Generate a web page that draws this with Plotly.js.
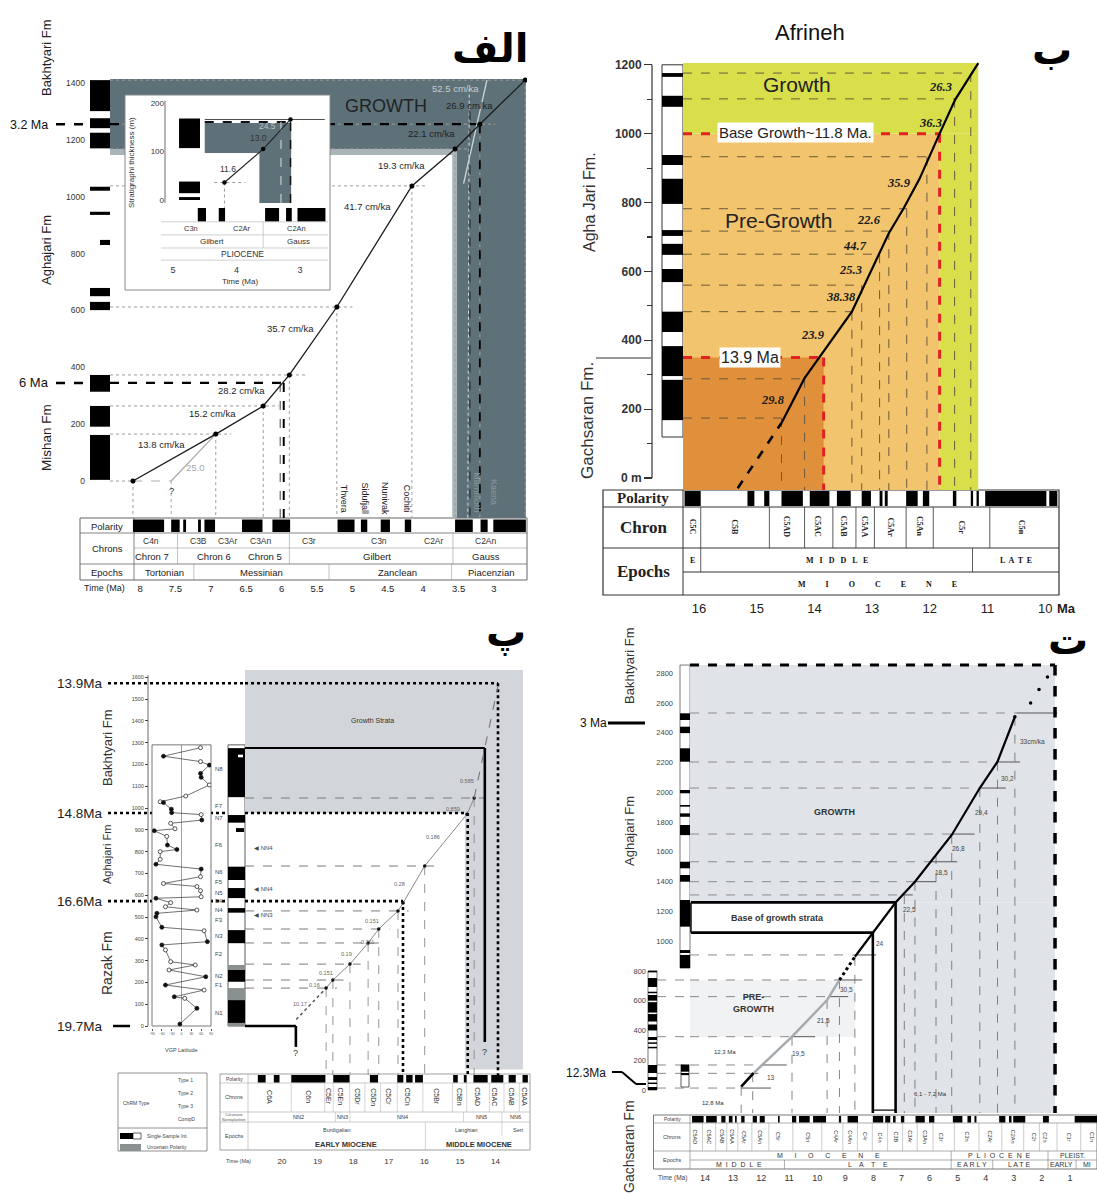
<!DOCTYPE html>
<html>
<head>
<meta charset="utf-8">
<script src="https://cdn.plot.ly/plotly-3.0.1.min.js"></script>
<style>html,body{margin:0;padding:0;background:#fff}#chart{width:1097px;height:1194px}</style>
</head>
<body>
<div id="chart"></div>
<script>
// ================= DATA =================
// ---- Panel A (الف) : age (Ma) vs stratigraphic thickness (m)
const A_age   = [8.1, 6.93, 6.26, 5.89, 5.22, 4.16, 3.55, 3.2, 2.56];
const A_thick = [0, 165, 264, 373, 612, 1038, 1168, 1255, 1410];
const A_altAge = [7.56, 6.93];
const A_altThick = [0, 165];
const A_fastAge = [3.43, 3.10];
const A_fastThick = [1046, 1410];
const A_rateText = ['13.8 cm/ka','15.2 cm/ka','28.2 cm/ka','35.7 cm/ka','41.7 cm/ka','19.3 cm/ka','22.1 cm/ka','26.9 cm/ka'];
const A_rateAge = [7.70, 6.98, 6.56, 5.87, 4.78, 4.30, 3.88, 3.34];
const A_rateThick = [130, 236, 317, 538, 964, 1111, 1224, 1322];
const A_yTicks = [0, 200, 400, 600, 800, 1000, 1200, 1400];
const A_timeTicks = [8, 7.5, 7, 6.5, 6, 5.5, 5, 4.5, 4, 3.5, 3];
const A_colTop = [1410, 1276, 1225, 1035, 947, 679, 630, 373, 264, 162];
const A_colBot = [1301, 1241, 1170, 1021, 936, 650, 601, 314, 191, 4];
const A_polStart = [8.1, 7.56, 7.39, 7.18, 7.09, 6.56, 6.13, 5.21, 4.88, 4.60, 4.26, 3.55, 3.19, 3.01];
const A_polEnd   = [7.66, 7.44, 7.35, 7.14, 6.94, 6.27, 5.88, 4.97, 4.79, 4.47, 4.17, 3.30, 3.09, 2.55];
const A_chron1 = ['C4n','C3B','C3Ar','C3An','C3r','C3n','C2Ar','C2An'];
const A_chron1Age = [7.84, 7.18, 6.76, 6.29, 5.61, 4.62, 3.85, 3.11];
const A_chron2 = ['Chron 7','Chron 6','Chron 5','Gilbert','Gauss'];
const A_chron2Age = [7.83, 6.95, 6.23, 4.65, 3.11];
const A_epoch = ['Tortonian','Messinian','Zanclean','Piacenzian'];
const A_epochAge = [7.66, 6.29, 4.36, 3.04];
const A_epochBounds = [7.24, 5.33, 3.6];
const A_chronBounds = [7.47, 5.89, 3.58];
const A_events = ['Thvera','Sidufjall','Nunivak','Cochiti','Mammoth','Kaena'];
const A_eventAge = [5.12, 4.82, 4.53, 4.23, 3.24, 3.01];
// inset of panel A
const A_inAge = [4.19, 3.58, 3.15];
const A_inThick = [36, 105, 166];
const A_inRate = ['11.6', '13.0', '24.5'];
const A_inRateAge = [4.13, 3.66, 3.52];
const A_inRateThick = [64, 128, 152];
const A_inColTop = [168, 38, 6];
const A_inColBot = [107, 14, 0];
const A_inPolStart = [4.61, 4.28, 3.55, 3.22, 3.04];
const A_inPolEnd   = [4.48, 4.18, 3.33, 3.13, 2.60];
const A_inChron = ['C3n','C2Ar','C2An'];
const A_inChronAge = [4.72, 3.91, 3.05];

// ---- Panel B (ب) Afrineh
const B_dashAge = [15.33, 14.57];
const B_dashThick = [-30, 160];
const B_age   = [14.57, 14.17, 13.35, 12.9, 12.71, 12.45, 12.18, 11.83, 11.56, 11.16];
const B_thick = [160, 290, 483, 643, 711, 784, 868, 1000, 1099, 1205];
const B_tieAge   = [14.57, 14.17, 13.35, 13.18, 12.87, 12.71, 12.40, 12.05, 11.57, 11.29];
const B_tieThick = [174, 288, 483, 560, 650, 717, 782, 933, 1101, 1176];
const B_rateText = ['26.3','36.3','35.9','22.6','44.7','25.3','38.38','23.9','29.8'];
const B_rateAge = [11.81, 11.98, 12.53, 13.05, 13.30, 13.37, 13.54, 14.02, 14.72];
const B_rateThick = [1136, 1031, 857, 750, 674, 604, 526, 415, 227];
const B_yTicks = [0, 200, 400, 600, 800, 1000, 1200];
const B_yTickText = ['0 m','200','400','600','800','1000','1200'];
const B_timeTicks = [16, 15, 14, 13, 12, 11, 10];
const B_colTop = [1176, 1110, 938, 869, 720, 680, 607, 483, 383, 285];
const B_colBot = [1165, 1078, 909, 796, 703, 648, 569, 424, 296, 168];
const B_polStart = [16.25, 15.16, 14.87, 14.57, 14.08, 13.61, 13.18, 12.87, 12.78, 12.41, 12.12, 11.60, 11.29, 11.19, 11.04, 9.93];
const B_polEnd   = [15.97, 15.04, 14.78, 14.20, 13.74, 13.37, 13.02, 12.82, 12.73, 12.21, 12.01, 11.54, 11.25, 11.15, 9.98, 9.79];
const B_chron = ['C5C','C5B','C5AD','C5AC','C5AB','C5AA','C5Ar','C5An','C5r','C5n'];
const B_chronAge = [16.1, 15.38, 14.47, 13.93, 13.48, 13.12, 12.68, 12.17, 11.45, 10.4];
const B_chronBounds = [15.97, 14.78, 14.17, 13.68, 13.28, 12.96, 12.41, 11.94, 10.96];

// ---- Panel C (پ)
const C_dotAge = [19.6, 18.76];
const C_dotThick = [30, 174];
const C_age   = [18.76, 18.57, 18.09, 17.58, 17.28, 16.74, 16.6, 15.99, 14.8, 14.6];
const C_thick = [174, 211, 284, 381, 445, 528, 564, 734, 972, 1046];
const C_topAge = [14.6, 13.93];
const C_topThick = [1046, 1560];
const C_tieAge   = [18.76, 18.57, 18.09, 17.58, 17.28, 16.74, 15.99, 14.6];
const C_tieThick = [174, 211, 284, 381, 445, 528, 734, 1046];
const C_rateText = ['10.17','0.16','0.151','0.19','0.211','0.151','0.28','0.186','0.859','0.585'];
const C_rateAge = [19.49, 19.1, 18.76, 18.2, 17.61, 17.47, 16.69, 15.76, 15.2, 14.8];
const C_rateThick = [101, 188, 243, 330, 385, 482, 651, 867, 995, 1124];
const C_yTicks = [0,100,200,300,400,500,600,700,800,900,1000,1100,1200,1300,1400,1500,1600];
const C_timeTicks = [20, 19, 18, 17, 16, 15, 14, 13];
const C_markLbl = ['13.9Ma','14.8Ma','16.6Ma','19.7Ma'];
const C_markThick = [1573, 977, 573, 0];
const C_markAge = [13.93, 14.78, 16.6, null];
const C_vgpThick = [1277,1238,1213,1197,1159,1141,1106,1055,1029,1025,995,979,970,945,930,905,896,870,830,810,800,765,742,720,685,654,640,621,593,586,566,547,532,517,501,453,437,387,372,349,295,280,257,226,188,165,134,127,81,9];
const C_vgpLat   = [58,-55,58,85,58,60,85,13,-65,-55,-31,-30,60,62,-33,-20,-83,-45,-43,-14,-65,-65,-78,60,58,-55,47,58,60,-78,-33,-49,47,-75,-78,-60,69,79,-60,-49,-33,42,-38,74,-49,69,-22,10,47,-5];
const C_vgpType  = [2,1,2,1,1,1,2,2,2,1,1,1,2,1,2,2,1,2,1,1,2,2,1,1,2,2,2,2,2,1,2,2,2,1,1,1,2,1,1,2,2,2,2,1,1,2,1,2,1,1];
const C_colBlack = [[1275,1050],[968,933],[731,670],[633,587],[541,520],[440,380],[257,203],[119,14]];
const C_colGray = [[280,257],[174,119],[14,0]];
const C_zoneLbl = ['N8','F7','N7','F6','N6','F5','N5','F4','N4','F3','N3','F2','N2','F1','N1'];
const C_zoneThick = [1180,1010,955,830,705,660,610,572,532,485,415,330,228,188,60];
const C_nnLbl = ['◀ NN4','◀ NN4','◀ NN3'];
const C_nnThick = [818, 628, 509];
const C_polStart = [20.68, 20.23, 19.74, 18.56, 17.53, 16.76, 16.51, 16.26, 15.19, 14.89, 14.62, 14.12, 13.63, 13.24];
const C_polEnd   = [20.46, 20.07, 18.78, 18.10, 17.30, 16.59, 16.33, 16.04, 15.06, 14.81, 14.22, 13.78, 13.43, 13.09];
const C_chron = ['C6A','C6n','C5Er','C5En','C5Dr','C5Dn','C5Cr','C5Cn','C5Br','C5Bn','C5AD','C5AC','C5AB','C5AA'];
const C_chronAge = [20.34, 19.25, 18.68, 18.33, 17.87, 17.42, 17.0, 16.45, 15.65, 15.0, 14.5, 14.0, 13.55, 13.18];
const C_chronBounds = [19.74, 18.80, 18.56, 18.10, 17.67, 17.23, 16.76, 16.04, 15.21, 14.81, 14.17, 13.76, 13.33];
const C_zone = ['NN2','NN3','NN4','NN5','NN6'];
const C_zoneAge = [19.55, 18.3, 16.6, 14.4, 13.45];
const C_zoneBounds = [18.5, 18.09, 14.9, 13.82];

// ---- Panel D (ت)
const D_startAge = [12.71, 12.27];
const D_startThick = [22, 113];
const D_preAge = [12.27, 10.9, 9.65, 9.21];
const D_preThick = [113, 358, 604, 739];
const D_gapAge = [9.21, 8.66];
const D_gapThick = [739, 895];
const D_age   = [8.66, 8.02, 7.21, 6.52, 5.77, 5.21, 4.21, 3.58, 2.96];
const D_thick = [895, 1057, 1259, 1399, 1578, 1713, 2028, 2205, 2507];
const D_topAge = [2.96, 2.4, 2.1, 1.8];
const D_topThick = [2507, 2600, 2690, 2774];
const D_hlThick = [2532, 2203, 2028, 1719, 1533, 1399, 1310, 907, 739, 627, 358, 168, 112, 13];
const D_hlCross = [2.9, 3.58, 4.21, 5.19, 5.96, 6.52, 6.9, 8.62, 9.21, 9.6, 10.9, 11.96, 12.27, 12.71];
const D_hlEnd   = [1.45, 2.78, 3.28, 4.40, 5.02, 5.77, 6.6, 7.9, 8.4, 8.9, 10.08, 11.09, 12.1, 11.65];
const D_vlAge   = [12.71, 12.3, 10.9, 9.65, 9.21, 8.66, 6.9, 6.52, 5.77, 5.21, 4.21, 3.58, 2.96];
const D_vlThick = [22, 113, 358, 604, 739, 895, 1310, 1399, 1578, 1713, 2028, 2205, 2507];
const D_rateText = ['33cm/ka','30,2','29,4','26,8','18,5','22,5','24','30,5','21,5','19,5','13'];
const D_rateAge = [2.33, 3.21, 4.15, 4.96, 5.59, 6.71, 7.77, 8.96, 9.77, 10.67, 11.65];
const D_rateThick = [2339, 2095, 1867, 1619, 1464, 1209, 987, 672, 470, 248, 81];
const D_yTicksUp = [1000,1200,1400,1600,1800,2000,2200,2400,2600,2800];
const D_yTicksLow = [0, 200, 400, 600, 800];
const D_timeTicks = [14,13,12,11,10,9,8,7,6,5,4,3,2,1,0];
const D_upBlack = [[2530,2485],[2440,2397],[2295,2205],[2015,1993],[1914,1903],[1858,1835],[1780,1712],[1533,1489],[1444,1399],[1276,1097],[940,920],[907,819]];
const D_lowBlack = [[800,790],[752,692],[660,650],[638,600],[590,520],[510,460],[440,400],[356,336],[320,310],[290,280],[168,114],[87,67],[50,40],[20,0]];
const D_polStart = [14.46,13.96,13.42,13.15,12.93,12.71,12.30,12.05,11.40,10.90,10.65,10.15,9.23,8.92,8.02,7.58,7.30,7.02,6.50,6.02,5.17,4.65,4.40,3.52,3.17,3.02,1.96,0.83];
const D_polEnd   = [14.05,13.58,13.27,13.02,12.87,12.59,12.15,11.87,11.34,10.75,10.27,9.69,9.15,8.55,7.65,7.40,7.21,6.90,6.17,5.83,4.83,4.52,4.33,3.30,3.08,2.59,1.75,0.02];
const D_chron = ['C5AD','C5AC','C5AB','C5AA','C5Ar','C5An','C5r','C5n','C4Ar','C4An','C4r','C4n','C3B','C3Ar','C3An','C3r','C3n','C2Ar','C2An','C2r','C2n','C1r','C1n'];
const D_chronAge = [14.34,13.84,13.40,13.05,12.61,12.05,11.40,10.34,9.34,8.84,8.30,7.78,7.21,6.71,6.17,5.58,4.65,3.83,3.02,2.27,1.90,1.02,0.21];

// ================= HELPERS =================
const W = 1097, H = 1194;
const px = v => v / W;
const py = v => 1 - v / H;
const SANS = 'Liberation Sans, Arial, sans-serif';
const SERIF = 'Liberation Serif, Times New Roman, serif';
const shapes = [], ann = [], traces = [];
function cx(ref, v) { return ref === 'paper' ? px(v) : v; }
function cy(ref, v) { return ref === 'paper' ? py(v) : v; }
function L(xr, yr, x0, y0, x1, y1, color, width, dash, layer) {
  shapes.push({type:'line', xref:xr, yref:yr, x0:cx(xr,x0), x1:cx(xr,x1), y0:cy(yr,y0), y1:cy(yr,y1),
    line:{color:color, width:width, dash:dash || 'solid'}, layer:layer || 'below'});
}
function R(xr, yr, x0, y0, x1, y1, fill, lc, lw, layer) {
  shapes.push({type:'rect', xref:xr, yref:yr, x0:cx(xr,x0), x1:cx(xr,x1), y0:cy(yr,y0), y1:cy(yr,y1),
    fillcolor: fill || 'rgba(0,0,0,0)', line:{color: lc || 'rgba(0,0,0,0)', width: lw || 0}, layer: layer || 'below'});
}
function T(text, xr, x, yr, y, size, o) {
  o = o || {};
  const a = {text:text, xref:xr, yref:yr, x:cx(xr,x), y:cy(yr,y), showarrow:false,
    textangle:o.angle || 0, xanchor:o.xa || 'center', yanchor:o.ya || 'middle',
    font:{family:o.family || SANS, size:size, color:o.color || '#111'}};
  if (o.bg) { a.bgcolor = o.bg; a.borderpad = 1; }
  ann.push(a);
}
function tr(o) { traces.push(Object.assign({hoverinfo:'skip', showlegend:false, cliponaxis:true}, o)); }

// ================= PANEL A =================
const AX0 = 8.424, AYB = -130.1;
R('x','y', AX0, 1168, 2.55, 1414, '#5f7178');
R('x','y', AX0, 1147, 3.58, 1168, '#a9b5b9');
R('x','y', 3.53, AYB, 2.55, 1168, '#5f7178');
R('x','y', 3.59, AYB, 3.53, 1168, '#a9b5b9');
A_age.forEach((t, i) => {
  const h = A_thick[i];
  if (h > 0) L('x','y', AX0, h, t - 0.22, h, '#9c9c9c', 1, 'dot');
  else L('x','y', AX0, h, t, h, '#9c9c9c', 1, 'dot');
  L('x','y', t, h, t, AYB, '#9c9c9c', 1, 'dot');
});
L('x','y', A_age[0], 0, A_altAge[0], 0, '#aaaaaa', 1, 'dash');
L('x','y', A_altAge[0], 0, A_altAge[0], AYB, '#aaaaaa', 1, 'dot');
L('x','y', A_fastAge[1] + 0.25, 1380, A_fastAge[1] + 0.27, AYB, '#d8e0e2', 1, 'dot');
// formation column
R('paper','y', 90, 0, 110, 1410, '#ffffff');
A_colTop.forEach((t, i) => R('paper','y', 90, t, 110, A_colBot[i], '#000000'));
R('paper','y', 100, 848, 110, 830, '#000000');
// 3.2 Ma and 6 Ma markers
L('paper','y', 56, 1255, 110, 1255, '#000', 2.5, 'dash');
L('x','y', AX0, 1255, 3.2, 1255, '#000', 2.2, 'dash');
L('x','y', 3.2, 1255, 3.2, AYB, '#000', 1.8, 'dash');
L('x','y', 3.34, 1300, 3.34, AYB, '#222', 1, 'dash');
L('paper','y', 56, 345, 110, 345, '#000', 2.5, 'dash');
L('x','y', AX0, 345, 5.97, 345, '#000', 2.2, 'dash');
L('x','y', 5.97, 345, 5.97, AYB, '#000', 2, 'dash');
L('x','y', 6.02, 345, 6.02, AYB, '#444', 1, 'dash');
// table A
R('paper','paper', 80, 518, 527, 580, null, '#666', 1);
L('paper','paper', 80, 533, 527, 533, '#666', 0.8);
L('paper','paper', 134, 548, 527, 548, '#999', 0.6);
L('paper','paper', 80, 564, 527, 564, '#666', 0.8);
L('paper','paper', 134, 518, 134, 580, '#666', 0.8);
A_polStart.forEach((s, i) => R('x','paper', s, 519.5, A_polEnd[i], 532, '#000'));
A_epochBounds.forEach(t => L('x','paper', t, 564, t, 580, '#999', 0.6));
A_chronBounds.forEach(t => L('x','paper', t, 533, t, 564, '#999', 0.6));
A_chron1.forEach((c, i) => T(c, 'x', A_chron1Age[i], 'paper', 540.5, 8.5, {color:'#333'}));
A_chron2.forEach((c, i) => T(c, 'x', A_chron2Age[i], 'paper', 556, 9.5, {color:'#222'}));
A_epoch.forEach((c, i) => T(c, 'x', A_epochAge[i], 'paper', 572, 9.5, {color:'#222'}));
T('Polarity','paper',107,'paper',526,9.5,{color:'#222'});
T('Chrons','paper',107,'paper',548,9.5,{color:'#222'});
T('Epochs','paper',107,'paper',572,9.5,{color:'#222'});
T('Time (Ma)','paper',104,'paper',588,9,{color:'#222'});
// labels A
A_rateText.forEach((s, i) => T(s, 'x', A_rateAge[i], 'y', A_rateThick[i], 9.5, {color:'#1f1f1f'}));
T('52.5 cm/ka','x',3.54,'y',1382,9.5,{color:'#c5cdd0'});
T('25.0','x',7.22,'y',49,9.5,{color:'#a8a8a8'});
T('?','x',7.56,'y',-32,9.5,{color:'#333'});
T('GROWTH','x',4.53,'y',1318,18,{color:'#1e2426'});
A_events.forEach((s, i) => T(s, 'x', A_eventAge[i], 'y', i < 4 ? -62 : -40, 9, {angle:90, color: i < 4 ? '#222' : '#8a999e'}));
T('3.2 Ma','paper',29,'paper',125,12.5,{color:'#111'});
T('6 Ma','paper',34,'paper',383,13,{color:'#111'});
T('Bakhtyari Fm','paper',47,'paper',58,13,{angle:-90,color:'#222'});
T('Aghajari Fm','paper',47,'paper',250,13,{angle:-90,color:'#222'});
T('Mishan Fm','paper',47,'paper',438,13.5,{angle:-90,color:'#222'});
T('<b>الف</b>','paper',490,'paper',48,40,{family:'DejaVu Sans, Noto Sans, sans-serif', color:'#000'});

tr({x:A_altAge, y:A_altThick, xaxis:'x', yaxis:'y', mode:'lines', line:{color:'#a9a9a9', width:1.2}});
tr({x:A_fastAge, y:A_fastThick, xaxis:'x', yaxis:'y', mode:'lines', line:{color:'#cfd7da', width:1.3}});
tr({x:A_age, y:A_thick, xaxis:'x', yaxis:'y', mode:'lines+markers', line:{color:'#1a1a1a', width:1.3}, marker:{color:'#000', size:5}});

// ---- inset A (x2/y2)
R('x2','y2', 4.50, 97, 3.14, 159, '#5f7178');
R('x2','y2', 3.64, -6, 3.14, 159, '#5f7178');
R('x2','y2', 4.905, 0, 4.575, 168, '#ffffff');
A_inColTop.forEach((t, i) => R('x2','y2', 4.905, t, 4.575, A_inColBot[i], '#000'));
L('x2','y2', 4.50, 166, 2.61, 166, '#222', 0.8);
L('x2','y2', 4.50, 161, 3.15, 161, '#111', 2, 'dash');
L('x2','y2', 4.35, 36, 3.86, 36, '#9a9a9a', 1, 'dot');
L('x2','y2', 4.19, 36, 4.19, -16, '#9a9a9a', 1, 'dot');
L('x2','y2', 3.30, 161, 3.30, -6, '#dddddd', 1, 'dash');
L('x2','y2', 3.15, 161, 3.15, -6, '#111', 1.5, 'dash');
// inset table
L('x2','y2', 5.19, -45, 2.56, -45, '#bbb', 0.7);
L('x2','y2', 5.19, -72, 2.56, -72, '#bbb', 0.7);
L('x2','y2', 5.19, -99, 2.56, -99, '#bbb', 0.7);
L('x2','y2', 5.19, -124, 2.56, -124, '#bbb', 0.7);
L('x2','y2', 3.58, -45, 3.58, -99, '#bbb', 0.7);
A_inPolStart.forEach((s, i) => R('x2','y2', s, -16.5, A_inPolEnd[i], -44, '#000'));
A_inChron.forEach((c, i) => T(c, 'x2', A_inChronAge[i], 'y2', -58, 7.5, {color:'#333'}));
T('Gilbert','x2',4.39,'y2',-85,8,{color:'#333'});
T('Gauss','x2',3.03,'y2',-85,8,{color:'#333'});
T('PLIOCENE','x2',3.9,'y2',-111,8.5,{color:'#333'});
T('Time (Ma)','paper',240,'paper',281,8,{color:'#333'});
T('Stratigraphi thickness (m)','paper',132,'paper',163,8,{angle:-90,color:'#333'});
A_inRate.forEach((s, i) => T(s, 'x2', A_inRateAge[i], 'y2', A_inRateThick[i], 8.5, {color: i === 2 ? '#b9c3c6' : '#333'}));
L('paper','y2', 165, -6, 165, 205, '#444', 0.8, 'solid', 'above');
R('paper','paper', 125, 95, 330, 290, null, '#888', 1, 'above');
tr({x:A_inAge, y:A_inThick, xaxis:'x2', yaxis:'y2', mode:'lines+markers', line:{color:'#222', width:1.1}, marker:{color:'#000', size:4.5}});

// ================= PANEL B =================
const BX0 = 16.277, BYB = -34.9;
R('x3','y3', BX0, BYB, 11.83, 1000, '#f2c46d');
R('x3','y3', BX0, BYB, 13.84, 350, '#e0903b');
R('x3','y3', BX0, 1000, 11.16, 1205, '#d8df4b');
R('x3','y3', 11.83, BYB, 11.16, 1000, '#d8df4b');
B_tieAge.forEach((t, i) => {
  const h = B_tieThick[i];
  L('x3','y3', BX0, h, t, h, '#6b5a3e', 1, 'dash');
  L('x3','y3', t, h, t, BYB, '#6b5a3e', 1, 'dash');
});
L('x3','y3', BX0, 1000, 11.83, 1000, '#e02222', 3, 'dash');
L('x3','y3', 11.83, 1000, 11.83, BYB, '#e02222', 3, 'dash');
L('x3','y3', BX0, 350, 13.84, 350, '#e02222', 3, 'dash');
L('x3','y3', 13.84, 350, 13.84, BYB, '#e02222', 3, 'dash');
// column and axis
R('paper','y3', 662, 119, 683, 1200, '#ffffff', '#333', 1);
B_colTop.forEach((t, i) => R('paper','y3', 662, t, 683, B_colBot[i], '#000'));
L('paper','y3', 652, 0, 652, 1200, '#333', 1.2);
L('paper','paper', 596, 358, 651, 358, '#333', 1);
// table B
R('paper','paper', 603, 490, 1059, 595, null, '#333', 1.2);
L('paper','paper', 603, 507, 1059, 507, '#333', 1);
L('paper','paper', 603, 548, 1059, 548, '#333', 1);
L('paper','paper', 683, 572, 1059, 572, '#333', 1);
L('paper','paper', 683, 490, 683, 595, '#333', 1);
B_polStart.forEach((s, i) => R('x3','paper', s, 491, B_polEnd[i], 506, '#000'));
B_chronBounds.forEach(t => L('x3','paper', t, 507, t, 548, '#333', 0.8));
[15.97, 11.26].forEach(t => L('x3','paper', t, 548, t, 572, '#333', 0.8));
B_chron.forEach((c, i) => T('<b>' + c + '</b>', 'x3', B_chronAge[i], 'paper', 527, 8, {angle:90, family:SERIF, color:'#222'}));
T('<b>E</b>','x3',16.12,'paper',560,8,{family:SERIF});
T('<b>M   I   D   D   L   E</b>','x3',13.6,'paper',560,8,{family:SERIF});
T('<b>L  A  T  E</b>','x3',10.5,'paper',560,8,{family:SERIF});
T('<b>M          I          O          C          E          N          E</b>','x3',12.9,'paper',584,8,{family:SERIF});
T('<b>Polarity</b>','paper',643,'paper',498,15,{family:SERIF,color:'#222'});
T('<b>Chron</b>','paper',643,'paper',527,17,{family:SERIF,color:'#222'});
T('<b>Epochs</b>','paper',643,'paper',571,17,{family:SERIF,color:'#222'});
T('<b>Ma</b>','paper',1066,'paper',608,13,{color:'#222'});
// labels B
B_rateText.forEach((s, i) => T('<b><i>' + s + '</i></b>', 'x3', B_rateAge[i], 'y3', B_rateThick[i], 12.5, {family:SERIF, color:'#1a1a1a'}));
T('Growth','x3',14.30,'y3',1143,21,{color:'#222'});
T('Pre-Growth','x3',14.63,'y3',749,21,{color:'#222'});
T('Base Growth~11.8 Ma.','x3',14.32,'y3',1004,15,{color:'#222', bg:'#ffffff'});
T('13.9 Ma','x3',15.12,'y3',351,16,{color:'#222', bg:'#ffffff'});
T('Afrineh','paper',810,'paper',32,22,{color:'#111'});
T('Agha Jari Fm.','paper',589,'paper',202,16,{angle:-90,color:'#333'});
T('Gachsaran Fm.','paper',587,'paper',421,17,{angle:-90,color:'#333'});
T('<b>ب</b>','paper',1052,'paper',50,40,{family:'DejaVu Sans, Noto Sans, sans-serif', color:'#000'});
tr({x:B_dashAge, y:B_dashThick, xaxis:'x3', yaxis:'y3', mode:'lines', line:{color:'#000', width:2.6, dash:'dash'}});
tr({x:B_age, y:B_thick, xaxis:'x3', yaxis:'y3', mode:'lines', line:{color:'#000', width:2.2}});

// ================= PANEL C =================
const CX0 = 21.04, CYB = -224.8;
R('x4','y4', CX0, 977, 13.23, 1633, '#d2d5d9');
R('x4','y4', 14.86, -200, 13.23, 977, '#d2d5d9');
C_tieAge.forEach((t, i) => {
  const h = C_tieThick[i];
  L('x4','y4', CX0, h, t - 0.3, h, '#7a7a7a', 1, 'dash');
  L('x4','y4', t, h, t, CYB, '#8a8a8a', 0.9, 'dash');
});
// heavy dotted age markers
C_markThick.forEach((h, i) => {
  if (C_markAge[i] === null) { L('paper','y4', 113, h, 130, h, '#000', 2.5); return; }
  L('paper','y4', 108, h, 245, h, '#000', 2.6, 'dot');
  L('x4','y4', CX0, h, C_markAge[i], h, '#000', 2.6, 'dot');
  L('x4','y4', C_markAge[i], h, C_markAge[i], CYB, '#000', 2.6, 'dot');
});
// black frame
L('x4','y4', CX0, 1275, 14.30, 1275, '#000', 2);
L('x4','y4', 14.30, 1275, 14.30, -73, '#000', 2.6);
L('x4','y4', CX0, 0, 19.61, 0, '#000', 2.4);
L('x4','y4', 19.61, 0, 19.61, -96, '#000', 2.6);
T('?','x4',19.61,'y4',-125,9,{color:'#333'});
T('?','x4',14.30,'y4',-120,9,{color:'#333'});
// VGP box and axis
R('paper','y4', 152, 0, 211, 1290, '#ffffff', '#555', 0.8);
L('x5','y4', 0, 0, 0, 1290, '#777', 0.7);
L('paper','y4', 148, 0, 148, 1610, '#444', 0.8);
// polarity column C
R('paper','y4', 228, 0, 245, 1290, '#ffffff', '#333', 0.8);
C_colBlack.forEach(b => R('paper','y4', 228, b[0], 245, b[1], '#000'));
C_colGray.forEach(b => R('paper','y4', 228, b[0], 245, b[1], '#8a9090'));
R('paper','y4', 238, 1245, 243, 1233, '#ffffff');
R('paper','y4', 236, 908, 244, 890, '#000');
C_zoneLbl.forEach((s, i) => T(s, 'paper', 219, 'y4', C_zoneThick[i], 6, {color:'#444'}));
C_nnLbl.forEach((s, i) => T(s, 'paper', 252, 'y4', C_nnThick[i], 6, {color:'#444', xa:'left'}));
// table C
R('paper','paper', 220, 1074, 530, 1150, null, '#888', 0.8);
L('paper','paper', 220, 1083, 530, 1083, '#aaa', 0.6);
L('paper','paper', 220, 1112, 530, 1112, '#aaa', 0.6);
L('paper','paper', 220, 1122, 530, 1122, '#aaa', 0.6);
L('paper','paper', 248, 1074, 248, 1150, '#aaa', 0.6);
C_polStart.forEach((s, i) => R('x4','paper', s, 1075, C_polEnd[i], 1082.5, '#000'));
C_chronBounds.forEach(t => L('x4','paper', t, 1083, t, 1112, '#bbb', 0.6));
C_zoneBounds.forEach(t => L('x4','paper', t, 1112, t, 1122, '#bbb', 0.6));
[15.97].forEach(t => L('x4','paper', t, 1122, t, 1150, '#bbb', 0.6));
L('x4','paper', 13.82, 1122, 13.82, 1136, '#bbb', 0.6);
C_chron.forEach((c, i) => T(c, 'x4', C_chronAge[i], 'paper', 1097, 7, {angle:90, color:'#333'}));
C_zone.forEach((c, i) => T(c, 'x4', C_zoneAge[i], 'paper', 1117, 5.5, {color:'#333'}));
T('Burdigalian','x4',18.45,'paper',1130,5.5,{color:'#444'});
T('Langhian','x4',14.81,'paper',1130,5.5,{color:'#444'});
T('Serr.','x4',13.35,'paper',1130,5.5,{color:'#444'});
T('<b>EARLY MIOCENE</b>','x4',18.2,'paper',1144,7.5,{color:'#333'});
T('<b>MIDDLE MIOCENE</b>','x4',14.47,'paper',1144,7.5,{color:'#333'});
T('Polarity','paper',234,'paper',1078.5,5,{color:'#444'});
T('Chrons','paper',234,'paper',1097,5.5,{color:'#444'});
T('Calcareous<br>Nannoplankton','paper',234,'paper',1117,3.5,{color:'#555'});
T('Epochs','paper',234,'paper',1136,5.5,{color:'#444'});
T('Time (Ma)','paper',238,'paper',1161,5.5,{color:'#444'});
// legend C
R('paper','paper', 118, 1073, 207, 1151, null, '#777', 0.8);
L('paper','paper', 118, 1128, 207, 1128, '#777', 0.8);
T('ChRM Type','paper',136,'paper',1103,5,{color:'#444'});
['Type 1','Type 2','Type 3','CompD'].forEach((s, i) => T(s, 'paper', 176, 'paper', 1080 + 13 * i, 5, {color:'#444', xa:'left'}));
R('paper','paper', 120, 1133, 133, 1139, '#000');
R('paper','paper', 133, 1133, 141, 1139, '#fff', '#000', 0.6);
R('paper','paper', 120, 1144, 141, 1151, '#8a9090');
T('Single-Sample Int.','paper',145,'paper',1136,5,{color:'#444', xa:'left'});
T('Uncertain Polarity','paper',145,'paper',1147,5,{color:'#444', xa:'left'});
// labels C
C_rateText.forEach((s, i) => T(s, 'x4', C_rateAge[i], 'y4', C_rateThick[i], 5.5, {color:'#666'}));
T('Growth Strata','x4',17.47,'y4',1404,7,{color:'#333'});
C_markLbl.forEach((s, i) => T(s, 'paper', 80, 'y4', C_markThick[i], 13.5, {color:'#222'}));
T('Bakhtyari Fm','paper',107,'paper',748,13,{angle:-90,color:'#333'});
T('Aghajari Fm','paper',107,'paper',855,11,{angle:-90,color:'#333'});
T('Razak Fm','paper',107,'paper',963,14,{angle:-90,color:'#333'});
T('VGP Latitude','paper',181,'paper',1050,5.5,{color:'#444'});
T('<b>پ</b>','paper',506,'paper',632,40,{family:'DejaVu Sans, Noto Sans, sans-serif', color:'#000'});
tr({x:C_dotAge, y:C_dotThick, xaxis:'x4', yaxis:'y4', mode:'lines', line:{color:'#555', width:1.5, dash:'dot'}});
tr({x:C_age, y:C_thick, xaxis:'x4', yaxis:'y4', mode:'lines+markers', line:{color:'#8a8a8a', width:1}, marker:{color:'#111', size:3.5}});
tr({x:C_topAge, y:C_topThick, xaxis:'x4', yaxis:'y4', mode:'lines', line:{color:'#777', width:1.1, dash:'dash'}});
tr({x:C_vgpLat, y:C_vgpThick, xaxis:'x5', yaxis:'y4', mode:'lines+markers', line:{color:'#333', width:0.7},
   marker:{size:4, color:C_vgpType.map(v => v === 1 ? '#111' : '#ffffff'), line:{color:'#111', width:0.7}}});

// ================= PANEL D =================
const DX0 = 14.534, DYB = -154.5;
R('x6','y6', DX0, 1260, 1.53, 2854, '#e0e4e9');
R('x6','y6', 7.21, DYB, 1.53, 1260, '#e0e4e9');
R('x6','y6', DX0, 356, 8.66, 739, '#f1f2f4');
D_hlThick.forEach((h, i) => {
  L('x6','y6', DX0, h, D_hlCross[i], h, '#8a8a8a', 1, 'dash');
  L('x6','y6', D_hlCross[i], h, D_hlEnd[i], h, '#555', 1);
  if (h < 800) L('paper','y6', 657, h, 690, h, '#8a8a8a', 1, 'dash');
});
D_vlAge.forEach((t, i) => L('x6','y6', t, D_vlThick[i], t, DYB, '#666', 0.8, 'dash'));
// thick frames
L('x6','y6', DX0, 2854, 1.53, 2854, '#000', 3, 'dash');
L('x6','y6', 1.53, 2854, 1.53, DYB, '#000', 3.5, 'dash');
L('x6','y6', 14.5, 1260, 7.21, 1260, '#000', 2.6);
L('x6','y6', 14.5, 1057, 8.02, 1057, '#000', 2.6);
L('x6','y6', 14.5, 1057, 14.5, 1260, '#000', 1.5);
L('x6','y6', 8.02, 1057, 8.02, DYB, '#000', 2.6);
L('x6','y6', 7.21, 1260, 7.21, DYB, '#000', 2.6);
L('x6','y6', 8.02, -135, 7.21, -135, '#000', 1.2);
// columns
R('paper','y6', 680, 819, 690, 2854, '#ffffff', '#555', 0.8);
D_upBlack.forEach(b => R('paper','y6', 680, b[0], 690, b[1], '#000'));
R('paper','y6', 648, 0, 657, 800, '#ffffff', '#555', 0.8);
D_lowBlack.forEach(b => R('paper','y6', 648, b[0], 657, b[1], '#000'));
R('paper','y6', 681, 20, 689, 170, '#ffffff', '#333', 0.8);
R('paper','y6', 681, 168, 689, 123, '#000');
R('paper','y6', 681, 114, 689, 100, '#000');
// left labels D
L('paper','paper', 608, 723, 645, 723, '#000', 3);
T('3 Ma','paper',593,'paper',723,12,{color:'#111'});
T('12.3Ma','paper',586,'paper',1073,12,{color:'#111'});
L('paper','paper', 612, 1072, 622, 1072, '#000', 2);
L('paper','paper', 622, 1072, 636, 1084, '#000', 2);
L('paper','paper', 636, 1084, 646, 1084, '#000', 2);
T('12,3 Ma','paper',712,'paper',1052,6,{color:'#333', xa:'left'});
T('12,8 Ma','paper',700,'paper',1103,6,{color:'#333', xa:'left'});
T('6,1 - 7,2 Ma','paper',912,'paper',1094,6,{color:'#333', xa:'left'});
T('Bakhtyari Fm','paper',629,'paper',666,13,{angle:-90,color:'#333'});
T('Aghajari Fm','paper',629,'paper',831,13,{angle:-90,color:'#333'});
T('Gachsaran Fm','paper',629,'paper',1147,14,{angle:-90,color:'#333'});
T('<b>ت</b>','paper',1068,'paper',640,40,{family:'DejaVu Sans, Noto Sans, sans-serif', color:'#000'});
// table D
R('paper','paper', 653.5, 1115, 1097, 1169, null, '#555', 0.8);
L('paper','paper', 653.5, 1123, 1097, 1123, '#777', 0.6);
L('paper','paper', 653.5, 1151, 1097, 1151, '#777', 0.6);
L('paper','paper', 690, 1160, 1097, 1160, '#777', 0.6);
L('paper','paper', 690, 1115, 690, 1169, '#777', 0.6);
D_polStart.forEach((s, i) => R('x6','paper', s, 1116, D_polEnd[i], 1122.5, '#000'));
D_chronAge.forEach((t, i) => {
  if (i > 0) { const b = (t + D_chronAge[i - 1]) / 2; L('x6','paper', b, 1123, b, 1151, '#999', 0.5); }
  T(D_chron[i], 'x6', t, 'paper', 1137, 5.5, {angle:90, color:'#333'});
});
[5.23, 1.78].forEach(t => L('x6','paper', t, 1151, t, 1169, '#777', 0.6));
[11.17, 3.75, 0.78].forEach(t => L('x6','paper', t, 1160, t, 1169, '#777', 0.6));
T('M      I      O      C      E      N      E','x6',9.6,'paper',1155.5,7,{color:'#333'});
T('P  L  I  O  C  E  N  E','x6',3.5,'paper',1155.5,7,{color:'#333'});
T('PLEIST.','x6',0.9,'paper',1155.5,7,{color:'#333'});
T('M  I  D  D  L  E','x6',12.8,'paper',1164.5,7,{color:'#333'});
T('L    A    T    E','x6',8.2,'paper',1164.5,7,{color:'#333'});
T('E A R L Y','x6',4.5,'paper',1164.5,7,{color:'#333'});
T('L A T E','x6',2.8,'paper',1164.5,7,{color:'#333'});
T('EARLY','x6',1.3,'paper',1164.5,7,{color:'#333'});
T('MI','x6',0.4,'paper',1164.5,7,{color:'#333'});
T('Polarity','paper',672,'paper',1119,5,{color:'#444'});
T('Chrons','paper',672,'paper',1137,5.5,{color:'#444'});
T('Epochs','paper',672,'paper',1160,5.5,{color:'#444'});
T('Time (Ma)','paper',672,'paper',1178,6.5,{color:'#444'});
// labels D
D_rateText.forEach((s, i) => T(s, 'x6', D_rateAge[i], 'y6', D_rateThick[i], 6.5, {color:'#444'}));
T('<b>GROWTH</b>','x6',9.4,'y6',1867,9,{color:'#333'});
T('<b>Base of growth strata</b>','x6',11.4,'y6',1155,9,{color:'#333'});
T('<b>PRE-<br>GROWTH</b>','x6',12.27,'y6',585,9,{color:'#333'});
tr({x:D_preAge, y:D_preThick, xaxis:'x6', yaxis:'y6', mode:'lines', line:{color:'#a4a9ae', width:2.4}});
tr({x:D_startAge, y:D_startThick, xaxis:'x6', yaxis:'y6', mode:'lines', line:{color:'#000', width:2.6}});
tr({x:D_gapAge, y:D_gapThick, xaxis:'x6', yaxis:'y6', mode:'lines', line:{color:'#000', width:3, dash:'dot'}});
tr({x:D_age, y:D_thick, xaxis:'x6', yaxis:'y6', mode:'lines', line:{color:'#000', width:2.2}});
tr({x:D_topAge, y:D_topThick, xaxis:'x6', yaxis:'y6', mode:'markers', marker:{color:'#000', size:3.5}});
tr({x:[7], y:[0], xaxis:'x6', yaxis:'y7', mode:'markers', marker:{opacity:0}});

// ================= LAYOUT =================
const base = {showgrid:false, zeroline:false, showline:false, ticks:'', fixedrange:true, tickmode:'array'};
function ax(o) { return Object.assign({}, base, o); }
const layout = {
  width: W, height: H, margin: {l:0, r:0, t:0, b:0},
  paper_bgcolor: '#ffffff', plot_bgcolor: '#ffffff', showlegend: false, hovermode: false,
  font: {family: SANS, size: 10, color: '#111'},
  xaxis: ax({domain:[px(110), px(527)], range:[AX0, 2.534], anchor:'free', position:py(581), tickvals:A_timeTicks, tickfont:{family:SANS, size:9.5, color:'#222'}}),
  yaxis: ax({domain:[py(518), py(75)], range:[AYB, 1428], anchor:'free', position:px(85), tickvals:A_yTicks, tickfont:{family:SANS, size:8.5, color:'#333'}}),
  xaxis2: ax({domain:[px(125), px(330)], range:[5.756, 2.528], anchor:'free', position:py(263), tickvals:[5,4,3], tickfont:{family:SANS, size:9, color:'#333'}}),
  yaxis2: ax({domain:[py(290), py(95)], range:[-185.6, 216.5], anchor:'free', position:px(164), tickvals:[0,100,200], tickfont:{family:SANS, size:8, color:'#333'}}),
  xaxis3: ax({domain:[px(683), px(1059)], range:[BX0, 9.761], anchor:'free', position:py(599), tickvals:B_timeTicks, tickfont:{family:SANS, size:13, color:'#222'}}),
  yaxis3: ax({domain:[py(490), py(50)], range:[BYB, 1243], anchor:'free', position:px(652), tickvals:B_yTicks,
              ticktext:B_yTickText.map(s => '<b>' + s + '</b>'), ticks:'outside', ticklen:8, tickcolor:'#333', tickwidth:1.2,
              minor:{dtick:100, tick0:0, ticks:'outside', ticklen:5, tickcolor:'#333'},
              tickfont:{family:SANS, size:12, color:'#333'}}),
  xaxis4: ax({domain:[px(245), px(530)], range:[CX0, 13.03], anchor:'free', position:py(1155), tickvals:C_timeTicks, tickfont:{family:SANS, size:8, color:'#333'}}),
  yaxis4: ax({domain:[py(1075), py(665)], range:[CYB, 1656.4], anchor:'free', position:px(148), tickvals:C_yTicks, ticks:'outside', ticklen:3, tickcolor:'#444', tickfont:{family:SANS, size:5.5, color:'#444'}}),
  xaxis5: ax({domain:[px(152), px(211)], range:[-90, 90], anchor:'free', position:py(1028), tickvals:[-90,-60,-30,0,30,60,90], ticks:'outside', ticklen:2, tickcolor:'#555', tickfont:{family:SANS, size:3.5, color:'#555'}}),
  xaxis6: ax({domain:[px(690), px(1097)], range:[DX0, 0.035], anchor:'free', position:py(1171), tickvals:D_timeTicks, tickfont:{family:SANS, size:9, color:'#333'}}),
  yaxis6: ax({domain:[py(1113), py(660)], range:[DYB, 2888], anchor:'free', position:px(673), tickvals:D_yTicksUp, tickfont:{family:SANS, size:7.5, color:'#444'}}),
  yaxis7: ax({overlaying:'y6', range:[DYB, 2888], anchor:'free', position:px(646), tickvals:D_yTicksLow, tickfont:{family:SANS, size:7.5, color:'#444'}}),
  shapes: shapes,
  annotations: ann
};
Plotly.newPlot('chart', traces, layout, {staticPlot:true, displayModeBar:false});
</script>
</body>
</html>
